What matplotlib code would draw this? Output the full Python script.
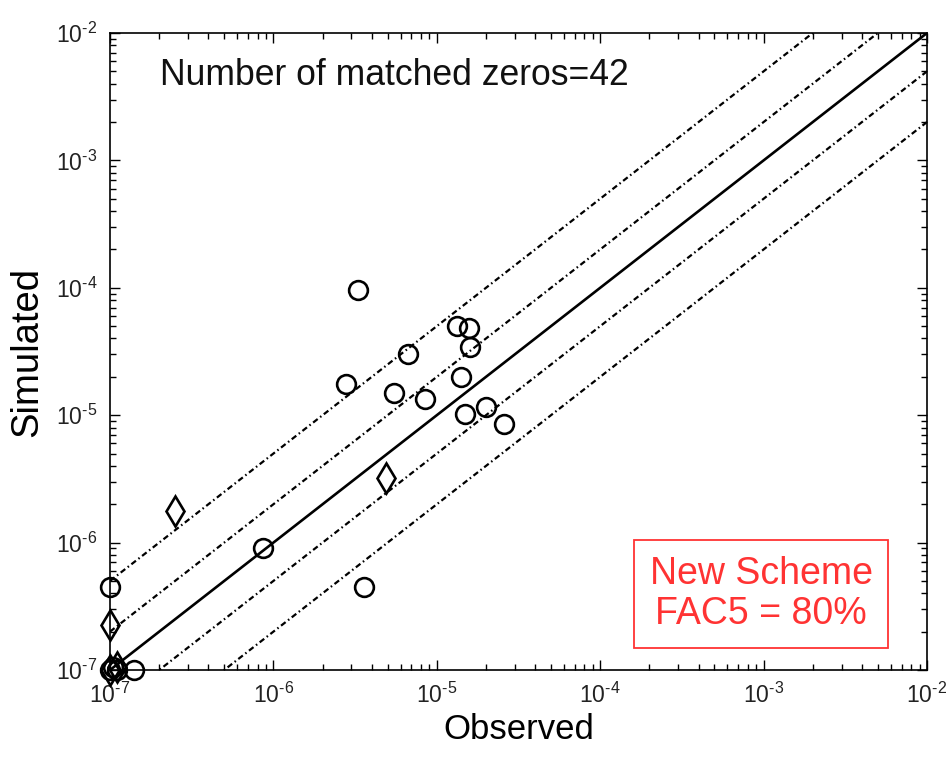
import matplotlib
matplotlib.use("Agg")
import matplotlib.pyplot as plt
import numpy as np
from matplotlib.ticker import FixedLocator, FuncFormatter, LogLocator, NullFormatter

plt.rcParams['font.family'] = ['Liberation Sans', 'DejaVu Sans']
plt.rcParams['mathtext.fontset'] = 'custom'
plt.rcParams['mathtext.rm'] = 'Liberation Sans'
plt.rcParams['mathtext.it'] = 'Liberation Sans'

# Circles (observed, simulated)
circ_obs = [1.0e-7, 1.0e-7, 1.1e-7, 1.05e-7, 1.4e-7, 8.6e-7, 3.6e-6, 3.3e-6, 2.8e-6,
            5.5e-6, 8.5e-6, 6.7e-6, 1.33e-5, 1.57e-5, 1.6e-5, 1.4e-5, 1.49e-5, 2.0e-5, 2.58e-5]
circ_sim = [4.5e-7, 1.0e-7, 1.0e-7, 1.05e-7, 1.0e-7, 9.1e-7, 4.5e-7, 9.6e-5, 1.76e-5,
            1.5e-5, 1.34e-5, 3.0e-5, 5.0e-5, 4.8e-5, 3.4e-5, 2.0e-5, 1.02e-5, 1.16e-5, 8.5e-6]
# Diamonds
diam_obs = [2.5e-7, 1.0e-7, 1.0e-7, 1.1e-7, 4.9e-6]
diam_sim = [1.77e-6, 2.25e-7, 1.0e-7, 1.05e-7, 3.2e-6]

factors = [1, 2, 0.5, 5, 0.2]
xlim = (1e-7, 1e-2)
ylim = (1e-7, 1e-2)
decades = [-7, -6, -5, -4, -3, -2]

fig = plt.figure(figsize=(9.48, 7.61), dpi=100)
ax = fig.add_axes([110/948, 91/761, 817/948, 637/761])
ax.set_xscale('log')
ax.set_yscale('log')

xx = np.array(xlim)
for f in factors:
    if f == 1:
        ax.plot(xx, xx * f, color='black', lw=1.9, solid_capstyle='butt', zorder=2)
    else:
        ax.plot(xx, xx * f, color='black', lw=1.6, linestyle=(0, (2.6, 1.4, 0.7, 1.4)), zorder=2)

ax.plot(circ_obs, circ_sim, linestyle='none', marker='o', markersize=13.5,
        markerfacecolor='none', markeredgecolor='black', markeredgewidth=1.9, clip_on=False, zorder=3)
ax.plot(diam_obs, diam_sim, linestyle='none', marker='d', markersize=15,
        markerfacecolor='none', markeredgecolor='black', markeredgewidth=1.9, clip_on=False, zorder=3)

ax.set_xlim(*xlim)
ax.set_ylim(*ylim)

HYPH = '\u2010'


def fmt_func(v, p):
    e = int(round(np.log10(v)))
    sign = HYPH if e < 0 else ''
    return '$\\mathregular{10^{' + sign + str(abs(e)) + '}}$'


fmt = FuncFormatter(fmt_func)
ax.xaxis.set_major_locator(FixedLocator([10.0**d for d in decades]))
ax.yaxis.set_major_locator(FixedLocator([10.0**d for d in decades]))
ax.xaxis.set_major_formatter(fmt)
ax.yaxis.set_major_formatter(fmt)
ax.xaxis.set_minor_locator(LogLocator(base=10, subs=np.arange(2, 10), numticks=20))
ax.yaxis.set_minor_locator(LogLocator(base=10, subs=np.arange(2, 10), numticks=20))
ax.xaxis.set_minor_formatter(NullFormatter())
ax.yaxis.set_minor_formatter(NullFormatter())
ax.tick_params(which='both', direction='in', top=True, right=True, width=1.0, color='black')
ax.tick_params(which='major', length=7, labelsize=16.5, labelcolor='#222222')
ax.tick_params(which='minor', length=4)
ax.tick_params(axis='x', which='major', pad=9)
ax.tick_params(axis='y', which='major', pad=9)
for s in ax.spines.values():
    s.set_linewidth(1.2)

ax.set_xlabel('Observed', fontsize=25, labelpad=4)
ax.set_ylabel('Simulated', fontsize=27.5, labelpad=8)

fig.text(160/948, 1 - 85/761, 'Number of matched zeros=42',
         fontsize=25.6, color='#111111', ha='left', va='baseline')

fig.text(761/948, 1 - 594/761, 'New Scheme\nFAC5 = 80%', fontsize=27, color='#ff3333',
         ha='center', va='center', linespacing=1.15,
         bbox=dict(boxstyle='square,pad=0.42', facecolor='white', edgecolor='#ff3333', linewidth=1.3))

fig.savefig('out.png', dpi=100)
